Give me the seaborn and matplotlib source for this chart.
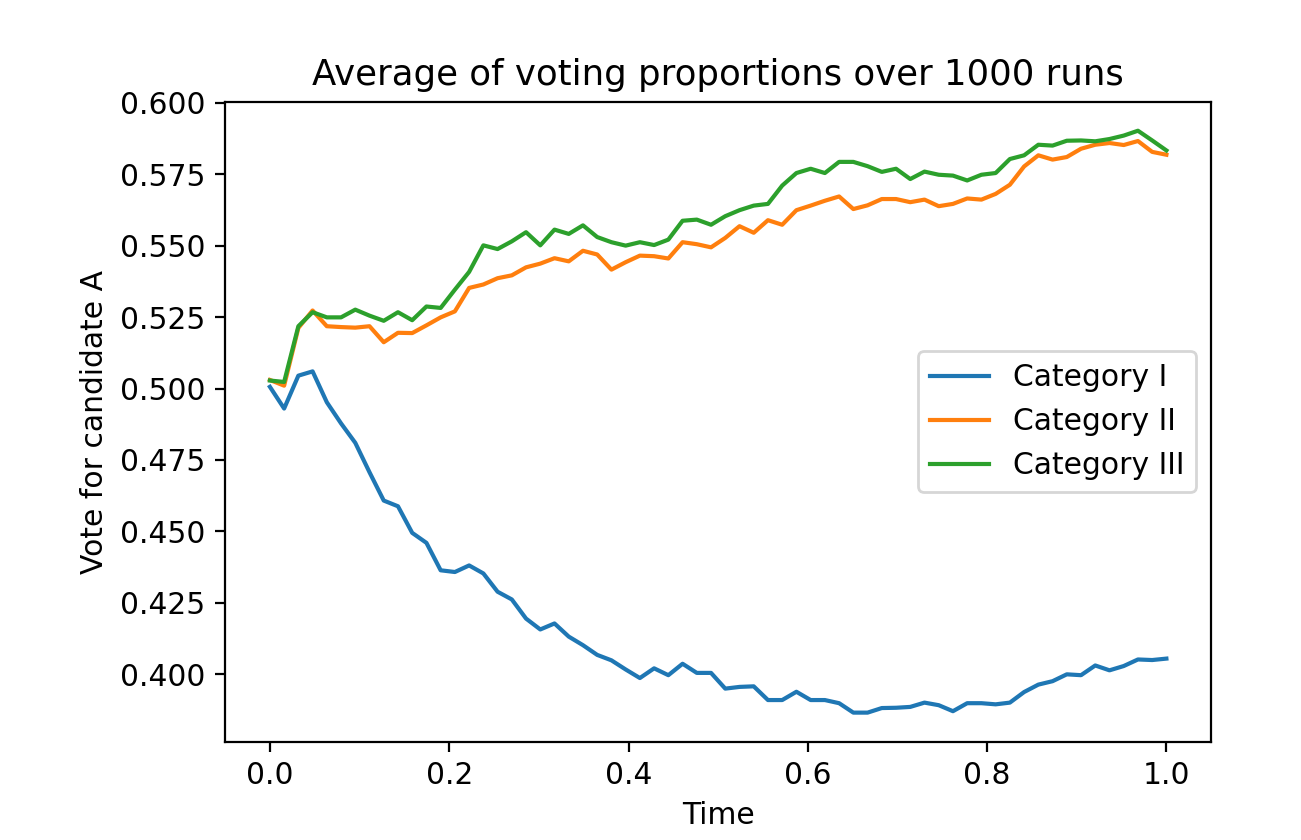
import numpy as np
import pandas as pd
import seaborn as sns
import matplotlib
matplotlib.use("Agg")
import matplotlib.pyplot as plt

categories = ["Category I", "Category II", "Category III"]
n_steps = 64
time = np.linspace(0, 1, n_steps)

cat_1 = [0.5006, 0.4930, 0.5045, 0.5060, 0.4952, 0.4878, 0.4810, 0.4707,
         0.4608, 0.4588, 0.4495, 0.4460, 0.4364, 0.4358, 0.4381, 0.4353,
         0.4289, 0.4262, 0.4195, 0.4157, 0.4178, 0.4132, 0.4102, 0.4068,
         0.4049, 0.4017, 0.3987, 0.4021, 0.3997, 0.4037, 0.4005, 0.4005,
         0.3950, 0.3956, 0.3958, 0.3910, 0.3910, 0.3939, 0.3910, 0.3910,
         0.3899, 0.3866, 0.3866, 0.3882, 0.3883, 0.3886, 0.3901, 0.3892,
         0.3871, 0.3899, 0.3899, 0.3895, 0.3901, 0.3938, 0.3964, 0.3976,
         0.4000, 0.3997, 0.4031, 0.4014, 0.4029, 0.4052, 0.4050, 0.4055]

cat_2 = [0.5030, 0.5010, 0.5212, 0.5273, 0.5218, 0.5215, 0.5213, 0.5218,
         0.5162, 0.5195, 0.5194, 0.5221, 0.5249, 0.5270, 0.5352, 0.5364,
         0.5386, 0.5396, 0.5424, 0.5437, 0.5456, 0.5445, 0.5482, 0.5469,
         0.5416, 0.5442, 0.5465, 0.5463, 0.5455, 0.5512, 0.5505, 0.5494,
         0.5527, 0.5568, 0.5545, 0.5589, 0.5573, 0.5624, 0.5640, 0.5657,
         0.5672, 0.5628, 0.5641, 0.5663, 0.5663, 0.5652, 0.5661, 0.5638,
         0.5646, 0.5665, 0.5661, 0.5681, 0.5713, 0.5777, 0.5816, 0.5801,
         0.5810, 0.5839, 0.5853, 0.5859, 0.5852, 0.5866, 0.5828, 0.5818]

cat_3 = [0.5028, 0.5023, 0.5218, 0.5267, 0.5249, 0.5249, 0.5276, 0.5255,
         0.5237, 0.5267, 0.5239, 0.5287, 0.5282, 0.5346, 0.5408, 0.5501,
         0.5488, 0.5515, 0.5547, 0.5501, 0.5556, 0.5541, 0.5571, 0.5530,
         0.5512, 0.5500, 0.5512, 0.5502, 0.5521, 0.5587, 0.5591, 0.5573,
         0.5603, 0.5624, 0.5640, 0.5646, 0.5710, 0.5754, 0.5769, 0.5754,
         0.5793, 0.5793, 0.5778, 0.5758, 0.5769, 0.5733, 0.5759, 0.5748,
         0.5745, 0.5728, 0.5748, 0.5754, 0.5803, 0.5816, 0.5853, 0.5850,
         0.5867, 0.5868, 0.5865, 0.5873, 0.5885, 0.5902, 0.5868, 0.5833]

df = pd.DataFrame({
    "Time": np.tile(time, 3),
    "Vote": np.concatenate([cat_1, cat_2, cat_3]),
    "Category": np.repeat(categories, n_steps),
})

fs = 10.7

fig, ax = plt.subplots(figsize=(6.505, 4.2), dpi=200)
fig.subplots_adjust(left=0.173, right=0.931, top=0.879, bottom=0.117)

sns.lineplot(data=df, x="Time", y="Vote", hue="Category",
             palette=sns.color_palette("tab10", 3), linewidth=1.5, ax=ax)

handles, labels = ax.get_legend_handles_labels()
ax.legend(handles, labels, loc="center right", fontsize=fs)

ax.set_title("Average of voting proportions over 1000 runs", fontsize=12.8)
ax.set_xlabel("Time", fontsize=fs)
ax.set_ylabel("Vote for candidate A", fontsize=fs)
ax.set_xticks([0.0, 0.2, 0.4, 0.6, 0.8, 1.0])
ax.set_yticks([0.400, 0.425, 0.450, 0.475, 0.500, 0.525, 0.550, 0.575, 0.600])
ax.yaxis.set_major_formatter(matplotlib.ticker.FormatStrFormatter("%.3f"))
ax.tick_params(labelsize=fs)

fig.savefig("out.png", dpi=200)
